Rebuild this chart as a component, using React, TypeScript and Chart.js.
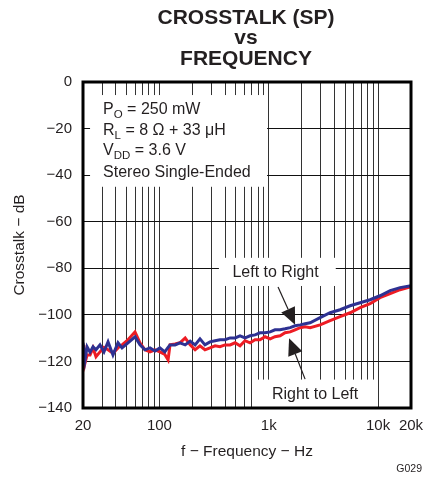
import React, { useEffect, useRef } from 'react';
import { Chart, registerables } from 'chart.js';

Chart.register(...registerables);

const FONT = '"Liberation Sans", Arial, Helvetica, sans-serif';

const titleLines = ['CROSSTALK (SP)', 'vs', 'FREQUENCY'];
const xAxisTitle = 'f \u2212 Frequency \u2212 Hz';
const yAxisTitle = 'Crosstalk \u2212 dB';
const figureId = 'G029';

const xGridValues = [20, 30, 40, 50, 60, 70, 80, 90, 100, 200, 300, 400, 500, 600, 700, 800, 900, 1000, 2000, 3000, 4000, 5000, 6000, 7000, 8000, 9000, 10000, 20000];
const xTickLabels: Record<number, string> = { 20: '20', 100: '100', 1000: '1k', 10000: '10k', 20000: '20k' };
const yMin = -140;
const yMax = 0;
const yStep = 20;

const freqHz = [20, 20.4, 20.9, 21.8, 23.2, 24.7, 26.3, 28.6, 31.1, 33.9, 37.6, 41.8, 45.5, 51.6, 59.8, 66.4, 73.8, 82, 91.2, 101, 112, 120, 125, 139, 154, 172, 191, 212, 235, 261, 290, 323, 358, 398, 443, 492, 546, 607, 675, 749, 832, 925, 1030, 1140, 1270, 1410, 1570, 1740, 1940, 2150, 2390, 2950, 3640, 4490, 5550, 6850, 8450, 10400, 12900, 15900, 20000];

const leftToRight = [-112, -112, -119.3, -113.7, -116, -113.7, -115, -112.9, -115.9, -111.6, -117.2, -112, -114.2, -112, -109.4, -112.9, -115, -114.2, -115.5, -114.2, -115.9, -114, -112.9, -112.9, -112, -112.9, -111.3, -112.9, -110.3, -112.9, -111.6, -111.1, -110.7, -110.7, -109.9, -109.9, -109.0, -109.9, -109.0, -108.6, -107.7, -107.7, -107.3, -106.4, -106.4, -106.0, -105.5, -104.7, -104.3, -103.8, -103.4, -101.2, -99.1, -97.8, -96.1, -94.8, -93.5, -91.8, -89.6, -88.3, -87.5];

const rightToLeft = [-113, -113.5, -120.6, -117.2, -117.2, -114.2, -118, -115.9, -114, -115, -116.5, -114.2, -112.9, -110.7, -107.3, -112, -115, -115.9, -115, -115.9, -117, -119.3, -112.9, -112.5, -112, -109.9, -112.9, -115, -113.3, -115, -114.2, -113.3, -113.7, -112.9, -112.9, -112, -113.3, -111.1, -112, -110.7, -110.7, -109.4, -110.3, -109.4, -109.0, -107.7, -107.3, -106.4, -105.5, -105.1, -105.5, -104.3, -102.5, -100.8, -99.1, -96.9, -95.2, -92.6, -90.9, -89.2, -87.9];

const seriesNames = ['Left to Right', 'Right to Left'];
const seriesColors = ['#2e3192', '#ed1c24'];

type Seg = { t: string; sub?: boolean };
const conditionLines: Seg[][] = [
  [{ t: 'P' }, { t: 'O', sub: true }, { t: ' = 250 mW' }],
  [{ t: 'R' }, { t: 'L', sub: true }, { t: ' = 8 \u03A9 + 33 \u03BCH' }],
  [{ t: 'V' }, { t: 'DD', sub: true }, { t: ' = 3.6 V' }],
  [{ t: 'Stereo Single-Ended' }],
];
// annotation anchors in data coordinates (Hz, dB)
const conditionStart = { f: 30.5, db: [-13.7, -22.8, -31.3, -40.8] };
const whiteBoxes = [
  { f0: 23.2, f1: 965, d0: -5.6, d1: -45 },
  { f0: 350, f1: 4100, d0: -75.5, d1: -87.6 },
  { f0: 780, f1: 9750, d0: -127.8, d1: -140 },
];
const seriesLabels = [
  { text: seriesNames[0], f: 1154, db: -83.7 },
  { text: seriesNames[1], f: 2650, db: -136.1 },
];
const arrows = [
  { f0: 1216, d0: -88, f1: 1740, d1: -104.3 },
  { f0: 2150, d0: -127.6, f1: 1534, d1: -110 },
];

const overlayPlugin = {
  id: 'overlay',
  beforeDatasetsDraw(chart: any) {
    const { ctx, scales } = chart;
    const x = scales.x;
    const y = scales.y;
    ctx.save();
    ctx.fillStyle = '#ffffff';
    for (const b of whiteBoxes) {
      const x0 = x.getPixelForValue(b.f0);
      const x1 = x.getPixelForValue(b.f1);
      const y0 = y.getPixelForValue(b.d0);
      const y1 = y.getPixelForValue(b.d1);
      ctx.fillRect(Math.min(x0, x1), Math.min(y0, y1), Math.abs(x1 - x0), Math.abs(y1 - y0));
    }
    ctx.fillStyle = '#231f20';
    ctx.textBaseline = 'alphabetic';
    ctx.textAlign = 'left';
    conditionLines.forEach((line, i) => {
      let px = x.getPixelForValue(conditionStart.f);
      const py = y.getPixelForValue(conditionStart.db[i]);
      for (const seg of line) {
        ctx.font = seg.sub ? `11.5px ${FONT}` : `16px ${FONT}`;
        ctx.fillText(seg.t, px, seg.sub ? py + 4 : py);
        px += ctx.measureText(seg.t).width;
      }
    });
    ctx.font = `16px ${FONT}`;
    ctx.textAlign = 'center';
    for (const l of seriesLabels) {
      ctx.fillText(l.text, x.getPixelForValue(l.f), y.getPixelForValue(l.db));
    }
    ctx.strokeStyle = '#231f20';
    ctx.fillStyle = '#231f20';
    ctx.lineWidth = 1.2;
    for (const a of arrows) {
      const ax = x.getPixelForValue(a.f0);
      const ay = y.getPixelForValue(a.d0);
      const bx = x.getPixelForValue(a.f1);
      const by = y.getPixelForValue(a.d1);
      const ang = Math.atan2(by - ay, bx - ax);
      const len = 17;
      const hw = 7.5;
      const baseX = bx - len * Math.cos(ang);
      const baseY = by - len * Math.sin(ang);
      ctx.beginPath();
      ctx.moveTo(ax, ay);
      ctx.lineTo(baseX, baseY);
      ctx.stroke();
      ctx.beginPath();
      ctx.moveTo(bx, by);
      ctx.lineTo(baseX + hw * Math.sin(ang), baseY - hw * Math.cos(ang));
      ctx.lineTo(baseX - hw * Math.sin(ang), baseY + hw * Math.cos(ang));
      ctx.closePath();
      ctx.fill();
    }
    ctx.restore();
  },
  afterDraw(chart: any) {
    const { ctx, chartArea } = chart;
    ctx.save();
    ctx.strokeStyle = '#000';
    ctx.lineWidth = 3;
    ctx.strokeRect(chartArea.left, chartArea.top, chartArea.right - chartArea.left, chartArea.bottom - chartArea.top);
    ctx.fillStyle = '#231f20';
    ctx.textAlign = 'center';
    ctx.textBaseline = 'alphabetic';
    ctx.font = `bold 21px ${FONT}`;
    const cx = (chartArea.left + chartArea.right) / 2 - 1;
    const baselines = [24, 43.5, 65];
    titleLines.forEach((t, i) => ctx.fillText(t, cx, baselines[i]));
    ctx.font = `10.5px ${FONT}`;
    ctx.textAlign = 'right';
    ctx.fillText(figureId, chart.width - 1, 472);
    ctx.restore();
  },
};

export default function App() {
  const canvasRef = useRef<HTMLCanvasElement | null>(null);

  useEffect(() => {
    if (!canvasRef.current) return;
    const makeData = (vals: number[]) => freqHz.map((f, i) => ({ x: f, y: vals[i] }));
    const chart = new Chart(canvasRef.current, {
      type: 'line',
      data: {
        datasets: [
          {
            label: seriesNames[0],
            data: makeData(leftToRight),
            borderColor: seriesColors[0],
            borderWidth: 3,
            pointRadius: 0,
            tension: 0,
          },
          {
            label: seriesNames[1],
            data: makeData(rightToLeft),
            borderColor: seriesColors[1],
            borderWidth: 3,
            pointRadius: 0,
            tension: 0,
          },
        ],
      },
      options: {
        responsive: false,
        animation: false,
        events: [],
        layout: { padding: { top: 82, right: 12, left: 0, bottom: 0 } },
        plugins: {
          legend: { display: false },
          title: { display: false },
          tooltip: { enabled: false },
        },
        scales: {
          x: {
            type: 'logarithmic',
            min: 20,
            max: 20000,
            afterBuildTicks: (scale: any) => {
              scale.ticks = xGridValues.map((v) => ({ value: v }));
            },
            afterFit: (scale: any) => {
              scale.height = 69;
              scale.paddingRight = 0;
              scale.paddingLeft = 0;
            },
            ticks: {
              autoSkip: false,
              maxRotation: 0,
              minRotation: 0,
              padding: 9,
              color: '#231f20',
              font: { family: FONT, size: 15 },
              callback: (value: any) => xTickLabels[Number(value)] ?? '',
            },
            grid: { color: '#333', lineWidth: 1, drawTicks: false },
            border: { display: false },
            title: {
              display: true,
              text: xAxisTitle,
              color: '#231f20',
              font: { family: FONT, size: 15.5 },
              padding: { top: 0, bottom: 16 },
            },
          },
          y: {
            type: 'linear',
            min: yMin,
            max: yMax,
            afterFit: (scale: any) => {
              scale.width = 83;
              scale.paddingTop = 0;
              scale.paddingBottom = 0;
            },
            ticks: {
              stepSize: yStep,
              padding: 11,
              color: '#231f20',
              font: { family: FONT, size: 15 },
              callback: (value: any) => (Number(value) === 0 ? '0' : '\u2212' + Math.abs(Number(value))),
            },
            grid: { color: '#111', lineWidth: 1, drawTicks: false },
            border: { display: false },
            title: {
              display: true,
              text: yAxisTitle,
              color: '#231f20',
              font: { family: FONT, size: 15.5 },
              padding: { top: 10, bottom: 0 },
            },
          },
        },
      },
      plugins: [overlayPlugin],
    });
    return () => chart.destroy();
  }, []);

  return (
    <div style={{ position: 'absolute', left: 0, top: 0, width: 423, height: 477, background: '#fff' }}>
      <canvas ref={canvasRef} width={423} height={477} style={{ display: 'block' }} />
    </div>
  );
}
